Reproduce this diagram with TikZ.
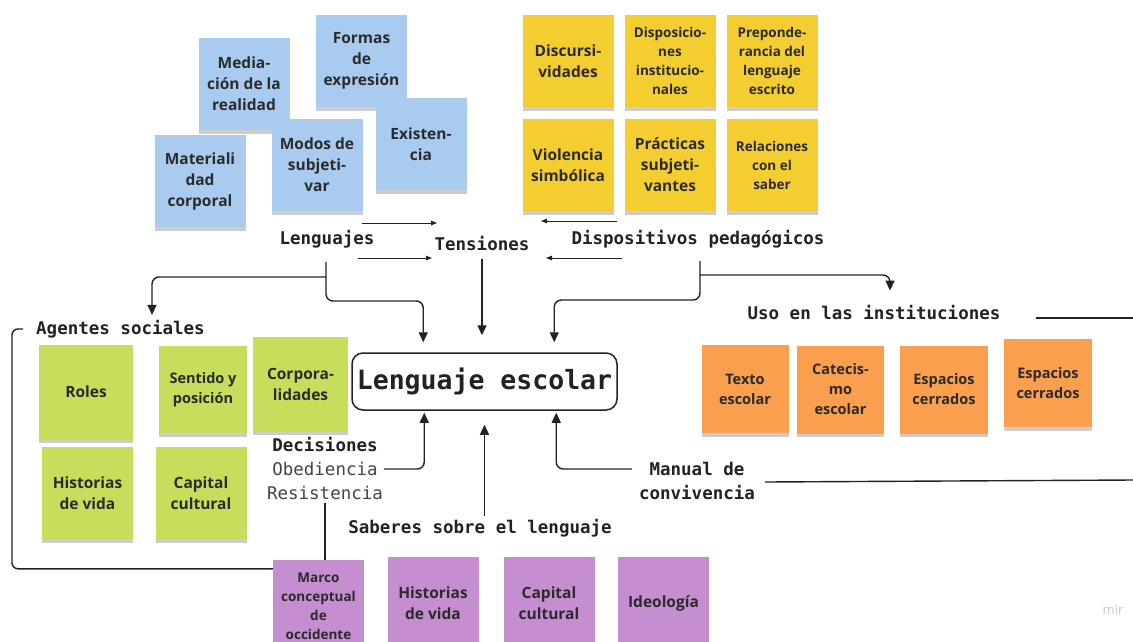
\documentclass[tikz,border=0pt]{standalone}
\usepackage{fontspec}
\setmainfont{Open Sans}
\newfontfamily\notefam{Open Sans}
\newfontfamily\monofam{DejaVu Sans Mono}
\usetikzlibrary{arrows.meta,shadows}
\definecolor{nblue}{HTML}{A9CBF0}
\definecolor{nyellow}{HTML}{F4CE30}
\definecolor{ngreen}{HTML}{C6DE5C}
\definecolor{norange}{HTML}{F99F4E}
\definecolor{npurple}{HTML}{C48ED0}
\definecolor{ink}{HTML}{222222}
\definecolor{noteink}{HTML}{2B2B2B}
\definecolor{soft}{HTML}{444444}
\definecolor{wm}{HTML}{C8C8C8}
\tikzset{
  note/.style={rectangle, fill=#1, minimum width=91pt, minimum height=92pt,
    inner sep=0pt, align=center, text=noteink,
    font=\notefam\bfseries\fontsize{15.5}{21}\selectfont,
    drop shadow={shadow xshift=0pt, shadow yshift=-3.5pt, opacity=0.2, fill=black}},
  small/.style={font=\notefam\bfseries\fontsize{13.5}{19}\selectfont},
  mid/.style={font=\notefam\bfseries\fontsize{14.5}{20}\selectfont},
  lbl/.style={font=\monofam\bfseries\fontsize{17.5}{24}\selectfont, text=ink, inner sep=1pt, align=center},
  plain/.style={font=\monofam\fontsize{17.5}{24}\selectfont, text=soft, inner sep=1pt},
  conn/.style={line width=1.4pt, draw=ink, rounded corners=7pt},
  arr/.style={conn, -{Triangle[length=10pt,width=9pt]}},
  thinarr/.style={line width=1pt, draw=ink, -{Triangle[length=6pt,width=4.5pt]}},
}
\begin{document}
\begin{tikzpicture}[x=1pt,y=-1pt]
\fill[white] (0,0) rectangle (1133,641);
\clip (0,0) rectangle (1133,641);

% blue notes
\node[note=nblue] (med) at (244,84) {Media-\\ción de la\\realidad};
\node[note=nblue] (form) at (361.5,61) {Formas\\de\\expresión};
\node[note=nblue] (mat) at (200,181) {Materiali\\dad\\corporal};
\node[note=nblue] (modos) at (317,165) {Modos de\\subjeti-\\var};
\node[note=nblue] (exist) at (421,144) {Existen-\\cia};

% yellow notes
\node[note=nyellow] (disc) at (568,61) {Discursi-\\vidades};
\node[note=nyellow, small] (dispo) at (670,61) {Disposicio-\\nes\\institucio-\\nales};
\node[note=nyellow, small] (prep) at (772,61) {Preponde-\\rancia del\\lenguaje\\escrito};
\node[note=nyellow] (viol) at (568,165) {Violencia\\simbólica};
\node[note=nyellow] (prac) at (670,165) {Prácticas\\subjeti-\\vantes};
\node[note=nyellow, small] (rel) at (772,165) {Relaciones\\con el\\saber};

% labels top
\node[lbl] (leng) at (327,239) {Lenguajes};
\node[lbl] (tens) at (482,244) {Tensiones};
\node[lbl] (disp) at (698,239) {Dispositivos pedagógicos};

% central box
\node[draw=ink, line width=1.5pt, rounded corners=11pt, minimum width=265pt, minimum height=57pt,
  font=\monofam\bfseries\fontsize{26.5}{30}\selectfont, text=ink] (box) at (484.5,381.5) {Lenguaje escolar};

% thin arrows between top labels
\draw[thinarr] ([shift={(35,-16)}]leng.center) -- ([shift={(-45,-21)}]tens.center);
\draw[thinarr] ([shift={(31,19)}]leng.center) -- ([shift={(-50,14)}]tens.center);
\draw[thinarr] ([shift={(-81,-18)}]disp.center) -- ([shift={(59,-23)}]tens.center);
\draw[thinarr] ([shift={(-76,19)}]disp.center) -- ([shift={(64,14)}]tens.center);

% green
\node[lbl, anchor=west] (ag) at (35,329) {Agentes sociales};
\node[note=ngreen, minimum width=94pt, minimum height=95pt] (roles) at (86,392) {Roles};
\node[note=ngreen, mid, minimum width=88pt, minimum height=87pt] (sent) at (203,389.5) {Sentido y\\posición};
\node[note=ngreen, minimum width=95pt, minimum height=94pt] (corp) at (300.5,384) {Corpora-\\lidades};
\node[note=ngreen] (hist) at (87.5,493) {Historias\\de vida};
\node[note=ngreen] (cap) at (201,493) {Capital\\cultural};

% decisiones
\node[lbl] (dec) at (325,445) {Decisiones};
\node[plain] (obed) at (325,469) {Obediencia};
\node[plain] (resis) at (325,493) {Resistencia};

\node[lbl] (sab) at (480,528) {Saberes sobre el lenguaje};
\node[lbl] (man) at (697,481) {Manual de\\convivencia};
\node[lbl] (uso) at (874,313) {Uso en las instituciones};

% orange
\node[note=norange, mid, minimum width=87pt, minimum height=88pt] (texto) at (745,389) {Texto\\escolar};
\node[note=norange, mid, minimum width=87pt, minimum height=88pt] (cate) at (840.5,389.5) {Catecis-\\mo\\escolar};
\node[note=norange, mid, minimum width=88pt, minimum height=88pt] (esp1) at (944,389.5) {Espacios\\cerrados};
\node[note=norange, mid, minimum width=88pt, minimum height=88pt] (esp2) at (1048,383) {Espacios\\cerrados};

% purple
\node[note=npurple, small] (marco) at (318.5,606) {Marco\\conceptual\\de\\occidente};
\node[note=npurple] (phist) at (433,603) {Historias\\de vida};
\node[note=npurple] (pcap) at (549,603) {Capital\\cultural};
\node[note=npurple] (ideo) at (663.5,603) {Ideología};

% connectors
\coordinate (lengS) at (326,262);
\coordinate (lj) at (326,277);
\draw[arr] (lengS) -- (326,301) -| ([xshift=72pt,yshift=10pt]box.north west);
\draw[arr] (lj) -| ([xshift=117pt,yshift=4pt]ag.north west);
\draw[arr, shorten <=7pt, shorten >=17pt] (tens.south) -- (tens.south |- box.north);
\coordinate (dispS) at (700,261);
\coordinate (dj) at (700,275);
\draw[arr] (dispS) -- (700,300) -| ([xshift=203pt,yshift=10pt]box.north west);
\draw[arr] (dj) -| ([xshift=16pt,yshift=14pt]uso.north);

\draw[arr, shorten <=5pt, shorten >=2pt] (obed.east) -| ([xshift=73pt]box.south west);
\draw[arr, shorten <=2pt, shorten >=14pt] (sab.north -| box.south) -- (box.south);
\draw[arr, shorten >=2pt] ([shift={(-6,-12)}]man.west) -| ([xshift=205pt]box.south west);

\coordinate (mEnd) at (1133,480);
\draw[conn] ([xshift=9pt,yshift=-1pt]man.east) -- (mEnd);
\coordinate (uEnd) at (1133,318);
\draw[conn] ([shift={(34,5)}]uso.east) -- (uEnd);

% bracket around agentes sociales
\draw[conn, rounded corners=6pt] ([xshift=-12pt]ag.west) -- ++(-11,0) |- ([yshift=-9pt]marco.north west);
\draw[conn] ([yshift=-2pt]resis.south) -- (resis.south |- marco.north);

\node[font=\notefam\fontsize{13}{15}\selectfont, text=wm] (mir) at (1113,610) {mir};
\end{tikzpicture}
\end{document}
